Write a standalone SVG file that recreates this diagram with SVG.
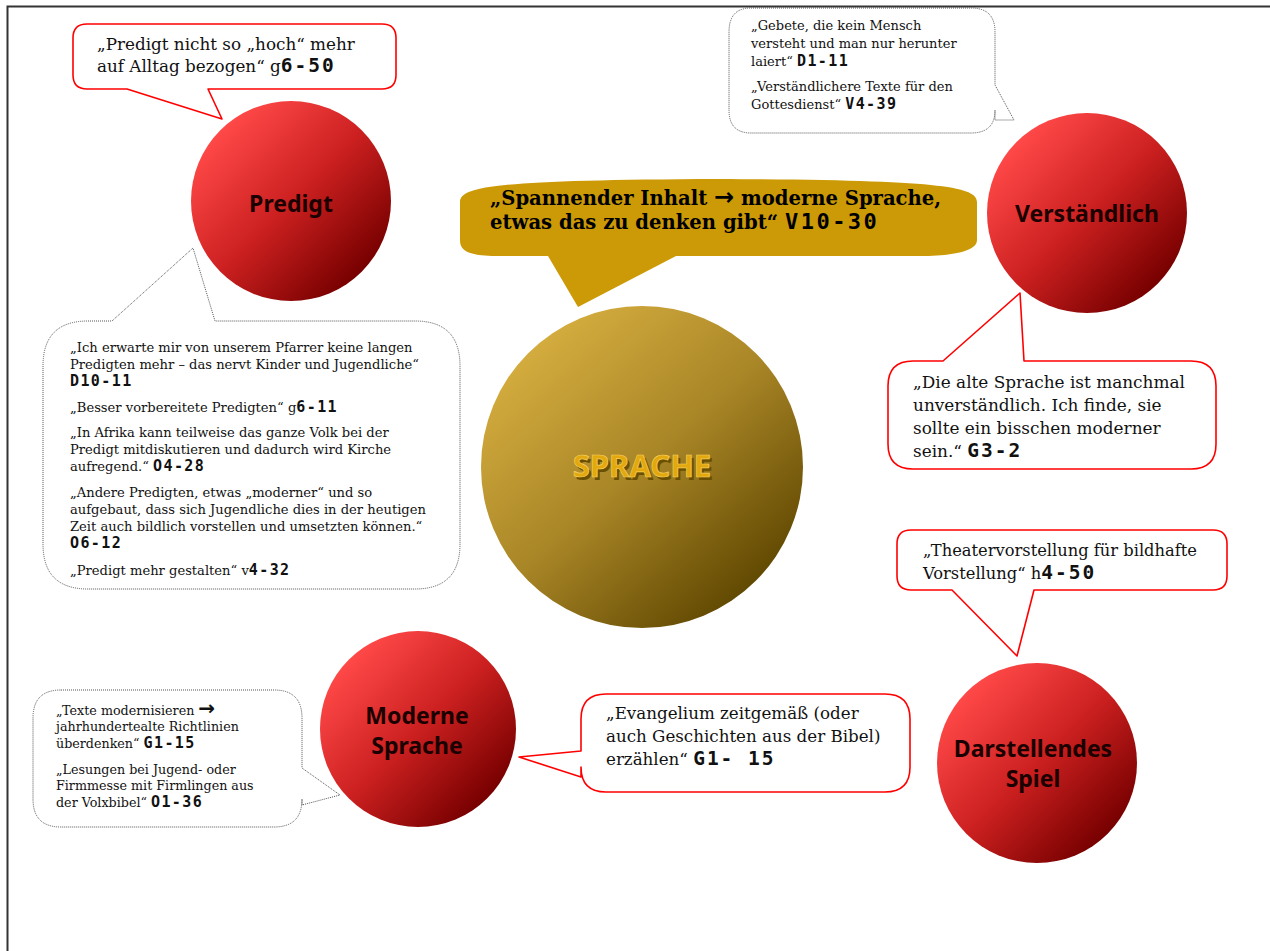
<svg xmlns="http://www.w3.org/2000/svg" width="1270" height="951" viewBox="0 0 1270 951">
<defs>
<linearGradient id="red" x1="0.15" y1="0.15" x2="0.85" y2="0.85">
<stop offset="0" stop-color="#ff4848"/>
<stop offset="0.5" stop-color="#cc2020"/>
<stop offset="1" stop-color="#780000"/>
</linearGradient>
<linearGradient id="gold" x1="0.15" y1="0.1" x2="0.85" y2="0.9">
<stop offset="0" stop-color="#d6ae40"/>
<stop offset="0.5" stop-color="#a88526"/>
<stop offset="1" stop-color="#5e4600"/>
</linearGradient>
<style>
.frame{stroke:#333;stroke-width:2;fill:none}
.redc{fill:#fff;stroke:#ff0000;stroke-width:1.6;stroke-linejoin:round}
.dotc{fill:#fff;stroke:#555;stroke-width:1;stroke-dasharray:1 1;stroke-linejoin:round}
.q{font-family:"DejaVu Serif","Liberation Serif",serif;fill:#111}
.c{font-family:"DejaVu Sans Mono","Liberation Mono",monospace;font-weight:bold}
.cs{font-size:15px;letter-spacing:1.4px}
.cl{font-size:19.5px;letter-spacing:2px}
.lbl{font-family:"Noto Sans","Open Sans",sans-serif;font-weight:bold;font-size:23px;fill:#1a0000;text-anchor:middle}
.ban{font-family:"DejaVu Serif","Liberation Serif",serif;font-weight:bold;font-size:19.6px;fill:#000}
</style>
</defs>
<rect width="1270" height="951" fill="#fff"/>
<path class="frame" d="M7.5,951 V6.5 H1270"/>

<g id="connectors">
<path id="banner" d="M460,202 C460,186 500,180 718,179 C936,180 977,186 977,202 V240 C977,252 950,256 920,256 H676 L578,307 L548,256 H500 C470,256 460,252 460,240 Z" fill="#cc9a06"/>
</g>

<g id="sprache">
<circle cx="642" cy="467" r="161" fill="url(#gold)"/>
<text x="644.5" y="479.5" font-family="Noto Sans, Open Sans, sans-serif" font-weight="bold" font-size="31" text-anchor="middle" fill="#6a5000">SPRACHE</text>
<text x="642" y="477" font-family="Noto Sans, Open Sans, sans-serif" font-weight="bold" font-size="31" text-anchor="middle" fill="#e2a80e" stroke="#f5d060" stroke-width="0.7">SPRACHE</text>
</g>

<g id="banner-text">
<text class="ban" x="490" y="205">„Spannender Inhalt <tspan font-family="DejaVu Sans, sans-serif" font-size="24">→</tspan> moderne Sprache,</text>
<text class="ban" x="490" y="229">etwas das zu denken gibt“ <tspan class="c" font-size="22" letter-spacing="2.5">V10-30</tspan></text>
</g>

<g id="predigt">
<circle cx="291" cy="201" r="100" fill="url(#red)"/>
<text class="lbl" x="291" y="212">Predigt</text>
</g>
<g id="verstaendlich">
<circle cx="1087" cy="213" r="100" fill="url(#red)"/>
<text class="lbl" x="1087" y="222">Verständlich</text>
</g>
<g id="moderne-sprache">
<circle cx="418" cy="729" r="98" fill="url(#red)"/>
<text class="lbl" x="417" y="724">Moderne</text>
<text class="lbl" x="417" y="754">Sprache</text>
</g>
<g id="darstellendes-spiel">
<circle cx="1037" cy="763" r="100" fill="url(#red)"/>
<text class="lbl" x="1033" y="757">Darstellendes</text>
<text class="lbl" x="1033" y="787">Spiel</text>
</g>

<g id="callout-predigt-top">
<path class="redc" d="M87,24 H382 Q396,24 396,38 V75 Q396,89 382,89 H208 L222,119 L127,89 H87 Q73,89 73,75 V38 Q73,24 87,24 Z"/>
<text class="q" font-size="16.8" x="97" y="50">„Predigt nicht so „hoch“ mehr</text>
<text class="q" font-size="16.8" x="97" y="72">auf Alltag bezogen“ g<tspan class="c cl">6-50</tspan></text>
</g>

<g id="callout-verstaendlich-top">
<path class="dotc" d="M751,8 H971 Q995,8 995,32 V85 L1014,120 L995,120 V110 Q995,133 971,133 H751 Q729,133 729,110 V32 Q729,8 751,8 Z"/>
<text class="q" font-size="13" x="751" y="30">„Gebete, die kein Mensch</text>
<text class="q" font-size="13" x="751" y="48">versteht und man nur herunter</text>
<text class="q" font-size="13" x="751" y="66">laiert“ <tspan class="c cs">D1-11</tspan></text>
<text class="q" font-size="13" x="751" y="91">„Verständlichere Texte für den</text>
<text class="q" font-size="13" x="751" y="109">Gottesdienst“ <tspan class="c cs">V4-39</tspan></text>
</g>

<g id="callout-predigt-list">
<path class="dotc" d="M88,321 H112 L193,248 L215,321 H415 Q460,321 460,366 V544 Q460,589 415,589 H88 Q43,589 43,544 V366 Q43,321 88,321 Z"/>
<g class="q" font-size="13.1">
<text x="70" y="352">„Ich erwarte mir von unserem Pfarrer keine langen</text>
<text x="70" y="369">Predigten mehr – das nervt Kinder und Jugendliche“</text>
<text x="70" y="386"><tspan class="c cs">D10-11</tspan></text>
<text x="70" y="412">„Besser vorbereitete Predigten“ g<tspan class="c cs">6-11</tspan></text>
<text x="70" y="437">„In Afrika kann teilweise das ganze Volk bei der</text>
<text x="70" y="454">Predigt mitdiskutieren und dadurch wird Kirche</text>
<text x="70" y="471">aufregend.“ <tspan class="c cs">O4-28</tspan></text>
<text x="70" y="497">„Andere Predigten, etwas „moderner“ und so</text>
<text x="70" y="514">aufgebaut, dass sich Jugendliche dies in der heutigen</text>
<text x="70" y="531">Zeit auch bildlich vorstellen und umsetzten können.“</text>
<text x="70" y="548"><tspan class="c cs">O6-12</tspan></text>
<text x="70" y="575">„Predigt mehr gestalten“ v<tspan class="c cs">4-32</tspan></text>
</g>
</g>

<g id="callout-verstaendlich-bottom">
<path class="redc" d="M913,361 H943 L1020,293 L1024,361 H1191 Q1216,361 1216,386 V444 Q1216,469 1191,469 H913 Q888,469 888,444 V386 Q888,361 913,361 Z"/>
<g class="q" font-size="16.9">
<text x="913" y="388">„Die alte Sprache ist manchmal</text>
<text x="913" y="411">unverständlich. Ich finde, sie</text>
<text x="913" y="434">sollte ein bisschen moderner</text>
<text x="913" y="457">sein.“ <tspan class="c cl">G3-2</tspan></text>
</g>
</g>

<g id="callout-darstellendes">
<path class="redc" d="M911,530 H1213 Q1227,530 1227,544 V576 Q1227,590 1213,590 H1034 L1017,656 L952,590 H911 Q897,590 897,576 V544 Q897,530 911,530 Z"/>
<g class="q" font-size="16.3">
<text x="923" y="556">„Theatervorstellung für bildhafte</text>
<text x="923" y="579">Vorstellung“ h<tspan class="c cl">4-50</tspan></text>
</g>
</g>

<g id="callout-moderne-left">
<path class="dotc" d="M61,690 H274 Q302,690 302,718 V768 L340,795 L302,805 V799 Q302,827 274,827 H61 Q33,827 33,799 V718 Q33,690 61,690 Z"/>
<g class="q" font-size="12.7">
<text x="56" y="715">„Texte modernisieren <tspan font-family="DejaVu Sans, sans-serif" font-weight="bold" font-size="20">→</tspan></text>
<text x="56" y="731">jahrhundertealte Richtlinien</text>
<text x="56" y="748">überdenken“ <tspan class="c cs">G1-15</tspan></text>
<text x="56" y="774">„Lesungen bei Jugend- oder</text>
<text x="56" y="790">Firmmesse mit Firmlingen aus</text>
<text x="56" y="807">der Volxbibel“ <tspan class="c cs">O1-36</tspan></text>
</g>
</g>

<g id="callout-moderne-right">
<path class="redc" d="M606,694 H885 Q910,694 910,719 V767 Q910,792 885,792 H606 Q581,792 581,767 V777 L519,757 L581,751 V719 Q581,694 606,694 Z"/>
<g class="q" font-size="16.7">
<text x="606" y="719">„Evangelium zeitgemäß (oder</text>
<text x="606" y="742">auch Geschichten aus der Bibel)</text>
<text x="606" y="765">erzählen“ <tspan class="c cl">G1- 15</tspan></text>
</g>
</g>
</svg>
